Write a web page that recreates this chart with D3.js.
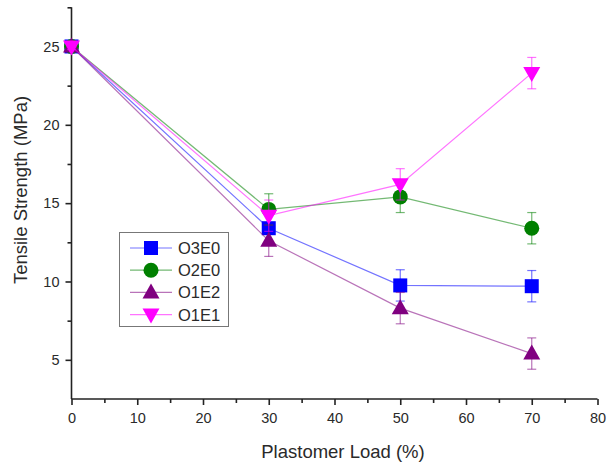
<!DOCTYPE html>
<html><head><meta charset="utf-8">
<script src="https://cdn.jsdelivr.net/npm/d3@7"></script>
<style>body{margin:0;background:#fff}svg text{font-family:"Liberation Sans",Arial,sans-serif}</style>
</head><body><svg id="c" width="608" height="470"></svg>
<script>
const loads = [0, 30, 50, 70];
const seriesNames = ["O3E0", "O2E0", "O1E2", "O1E1"];
const o3e0 = [25.0, 13.4, 9.75, 9.7];
const o2e0 = [25.0, 14.6, 15.4, 13.4];
const o1e2 = [25.0, 12.6, 8.3, 5.4];
const o1e1 = [25.0, 14.2, 16.2, 23.3];
const errO3E0 = [0.2, 1.0, 1.0, 1.0];
const errO2E0 = [0.2, 1.0, 1.0, 1.0];
const errO1E2 = [0.2, 1.0, 1.0, 1.0];
const errO1E1 = [0.2, 1.0, 1.0, 1.0];
const xTicks = [0, 10, 20, 30, 40, 50, 60, 70, 80];
const yTicks = [5, 10, 15, 20, 25];
const colors = ["#0000ff", "#008000", "#800080", "#ff00ff"];
const shapes = ["square", "circle", "triUp", "triDown"];

const svg = d3.select("#c");
const x = d3.scaleLinear().domain([0, 80]).range([71.5, 597.5]);
const y = d3.scaleLinear().domain([2.5, 27.5]).range([399, 7.3]);

const series = [
  {name: seriesNames[0], v: o3e0, e: errO3E0},
  {name: seriesNames[1], v: o2e0, e: errO2E0},
  {name: seriesNames[2], v: o1e2, e: errO1E2},
  {name: seriesNames[3], v: o1e1, e: errO1E1}
];

function marker(g, shape, cx, cy, color) {
  if (shape === "square") {
    g.append("rect").attr("x", cx - 7).attr("y", cy - 7).attr("width", 14).attr("height", 14).attr("fill", color);
  } else if (shape === "circle") {
    g.append("circle").attr("cx", cx).attr("cy", cy).attr("r", 7.5).attr("fill", color);
  } else if (shape === "triUp") {
    g.append("path").attr("d", `M${cx},${cy-9}L${cx+8.5},${cy+6}L${cx-8.5},${cy+6}Z`).attr("fill", color);
  } else {
    g.append("path").attr("d", `M${cx},${cy+9}L${cx+8.5},${cy-6}L${cx-8.5},${cy-6}Z`).attr("fill", color);
  }
}

const textCol = "#2a2a2a";
// axes
const xAxis = d3.axisBottom(x).tickValues(xTicks).tickSize(6).tickPadding(8).tickFormat(d3.format("d"));
const gx = svg.append("g").attr("transform", `translate(0,${y.range()[0]})`).call(xAxis);
gx.selectAll("text").attr("font-size", 14.5).attr("fill", textCol);
const xMinor = d3.axisBottom(x).tickValues(d3.range(5, 80, 10)).tickSize(4).tickFormat("");
svg.append("g").attr("transform", `translate(0,${y.range()[0]})`).call(xMinor).select(".domain").remove();

const yAxis = d3.axisLeft(y).tickValues(yTicks).tickSize(6).tickPadding(6);
const gy = svg.append("g").attr("transform", `translate(${x.range()[0]},0)`).call(yAxis);
gy.selectAll("text").attr("font-size", 14.5).attr("fill", textCol);
const yMinor = d3.axisLeft(y).tickValues([7.5, 12.5, 17.5, 22.5, 27.5]).tickSize(4).tickFormat("");
svg.append("g").attr("transform", `translate(${x.range()[0]},0)`).call(yMinor).select(".domain").remove();
svg.selectAll(".domain, .tick line").attr("stroke", "#222").attr("stroke-width", 1.6);
gx.select(".domain").attr("d", `M${x.range()[0]},0H${x.range()[1]}`);
gy.select(".domain").attr("d", `M0,${y.range()[0]}V${y.range()[1]}`);

// lines, error bars, markers
const line = d3.line().x((d, i) => x(loads[i])).y(d => y(d));
series.forEach((s, k) => {
  const g = svg.append("g");
  g.append("path").attr("d", line(s.v)).attr("fill", "none").attr("stroke", colors[k]).attr("stroke-opacity", 0.55).attr("stroke-width", 1.2);
  s.v.forEach((v, i) => {
    const cx = x(loads[i]);
    const eg = g.append("g").attr("stroke", colors[k]).attr("stroke-opacity", 0.55).attr("stroke-width", 1.2);
    eg.append("line").attr("x1", cx).attr("x2", cx).attr("y1", y(v + s.e[i])).attr("y2", y(v - s.e[i]));
    [v + s.e[i], v - s.e[i]].forEach(e => eg.append("line").attr("x1", cx - 4.5).attr("x2", cx + 4.5).attr("y1", y(e)).attr("y2", y(e)));
  });
  s.v.forEach((v, i) => marker(g, shapes[k], x(loads[i]), y(v), colors[k]));
});

// legend
const lg = svg.append("g");
lg.append("rect").attr("x", 119.5).attr("y", 232.5).attr("width", 109).attr("height", 94).attr("fill", "#fff").attr("stroke", "#777").attr("stroke-width", 1);
series.forEach((s, k) => {
  const ly = 248 + k * 22.2;
  lg.append("line").attr("x1", 130).attr("x2", 172).attr("y1", ly).attr("y2", ly).attr("stroke", colors[k]).attr("stroke-opacity", 0.55).attr("stroke-width", 1.2);
  marker(lg, shapes[k], 151, ly, colors[k]);
  lg.append("text").attr("x", 178).attr("y", ly + 6).attr("font-size", 16.5).attr("fill", textCol).text(s.name);
});

// titles
svg.append("text").attr("x", 343).attr("y", 458).attr("text-anchor", "middle").attr("font-size", 18.5).attr("fill", textCol).text("Plastomer Load (%)");
svg.append("text").attr("transform", "translate(27,190) rotate(-90)").attr("text-anchor", "middle").attr("font-size", 18.5).attr("fill", textCol).text("Tensile Strength (MPa)");
</script></body></html>
